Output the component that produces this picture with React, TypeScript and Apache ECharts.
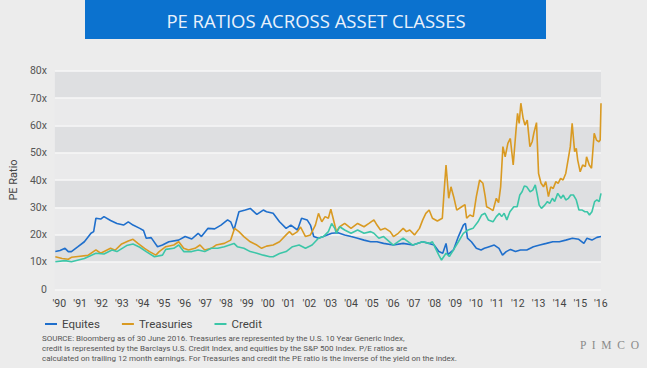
import React, { useEffect, useRef } from "react";
import * as echarts from "echarts";

const title = "PE RATIOS ACROSS ASSET CLASSES";
const yearLabels = ["'90","'91","'92","'93","'94","'95","'96","'97","'98","'99","'00","'01","'02","'03","'04","'05","'06","'07","'08","'09","'10","'11","'12","'13","'14","'15","'16"];
const yTicks = ["0","10x","20x","30x","40x","50x","60x","70x","80x"];
const seriesNames = ["Equites", "Treasuries", "Credit"];
const sourceLines = [
  "SOURCE: Bloomberg as of 30 June 2016. Treasuries are represented by the U.S. 10 Year Generic Index,",
  "credit is represented by the Barclays U.S. Credit Index, and equities by the S&P 500 Index. P/E ratios are",
  "calculated on trailing 12 month earnings. For Treasuries and credit the PE ratio is the inverse of the yield on the index.",
];

const equitiesT = [1990.02,1990.25,1990.49,1990.65,1990.8,1991.12,1991.43,1991.75,1991.88,1991.99,1992.22,1992.38,1992.7,1993.01,1993.33,1993.56,1993.79,1994.12,1994.3,1994.43,1994.67,1994.98,1995.22,1995.53,1996.0,1996.32,1996.64,1996.95,1997.11,1997.43,1997.75,1998.06,1998.38,1998.53,1998.69,1998.93,1999.24,1999.48,1999.8,2000.11,2000.27,2000.59,2000.9,2001.22,2001.45,2001.77,2001.97,2002.24,2002.4,2002.56,2002.79,2003.03,2003.43,2003.74,2004.06,2004.37,2004.69,2005.0,2005.32,2005.63,2005.95,2006.42,2006.9,2007.37,2007.84,2008.16,2008.4,2008.63,2008.82,2008.98,2009.07,2009.34,2009.58,2009.82,2009.92,2010.02,2010.21,2010.45,2010.68,2010.84,2011.0,2011.32,2011.55,2011.72,2011.9,2012.11,2012.35,2012.59,2012.9,2013.22,2013.53,2013.85,2014.16,2014.48,2014.79,2015.11,2015.42,2015.67,2015.82,2016.06,2016.3,2016.5];
const equitiesV = [13.8,14.2,15.0,13.8,13.8,15.6,17.4,20.5,21.1,26.0,25.7,26.6,25.2,24.1,23.5,24.7,23.5,22.3,21.5,18.7,18.9,15.6,16.2,17.4,18.0,19.3,18.4,20.5,19.3,22.3,22.1,23.5,25.4,24.7,21.7,28.4,29.0,29.6,27.4,29.0,28.4,27.8,24.7,22.3,23.5,21.7,26.0,25.4,23.5,19.3,18.7,19.3,20.5,20.7,19.9,19.3,18.7,18.0,17.4,17.4,16.8,16.2,16.8,16.2,17.4,16.8,16.2,13.8,13.2,16.8,12.7,14.4,19.3,23.5,24.1,18.7,17.4,15.0,14.4,15.0,15.4,16.2,15.0,12.5,13.8,14.6,13.8,14.4,14.4,15.6,16.2,16.8,17.4,17.4,18.0,18.7,18.3,16.8,18.7,18.0,19.0,19.3];

const treasuriesT = [1990.02,1990.35,1990.65,1990.8,1991.12,1991.6,1991.99,1992.22,1992.7,1992.92,1993.24,1993.56,1993.79,1994.03,1994.35,1994.59,1994.9,1995.06,1995.38,1995.77,1996.01,1996.25,1996.48,1996.8,1997.04,1997.27,1997.59,1997.82,1998.22,1998.53,1998.72,1998.93,1999.17,1999.48,1999.8,2000.03,2000.27,2000.59,2000.9,2001.22,2001.38,2001.53,2001.77,2001.92,2002.16,2002.4,2002.64,2002.79,2002.95,2003.11,2003.27,2003.39,2003.5,2003.66,2003.82,2004.06,2004.37,2004.69,2005.0,2005.24,2005.48,2005.63,2005.8,2006.03,2006.27,2006.43,2006.66,2006.9,2007.06,2007.22,2007.45,2007.69,2007.85,2008.0,2008.16,2008.32,2008.56,2008.8,2008.88,2008.98,2009.11,2009.22,2009.35,2009.5,2009.74,2009.9,2009.98,2010.14,2010.3,2010.45,2010.61,2010.77,2010.88,2010.95,2011.1,2011.26,2011.42,2011.53,2011.63,2011.74,2011.85,2011.98,2012.1,2012.24,2012.37,2012.45,2012.53,2012.61,2012.72,2012.81,2012.92,2013.05,2013.16,2013.24,2013.37,2013.47,2013.59,2013.71,2013.82,2013.95,2014.06,2014.18,2014.31,2014.42,2014.54,2014.66,2014.79,2014.9,2015.01,2015.1,2015.22,2015.3,2015.37,2015.49,2015.61,2015.74,2015.8,2015.93,2016.04,2016.17,2016.28,2016.4,2016.46,2016.5];
const treasuriesV = [11.9,11.3,11.0,11.7,12.0,12.4,14.4,13.2,15.0,14.3,16.6,17.7,18.3,16.8,15.0,13.8,12.5,13.8,15.6,16.2,17.4,15.0,14.4,15.0,16.2,14.4,15.0,16.2,16.8,18.0,22.3,21.1,19.3,17.4,16.2,15.0,15.8,16.2,17.4,19.9,21.1,19.9,21.1,22.8,19.3,19.9,23.5,27.8,24.7,26.6,26.0,29.3,26.0,21.1,22.9,24.1,22.3,24.1,22.9,24.1,25.4,23.5,21.7,22.3,21.1,19.3,20.5,22.3,21.1,21.7,19.9,22.3,25.4,27.8,29.0,26.0,25.0,26.0,35.1,45.5,33.3,37.5,33.9,29.0,30.2,31.0,26.0,27.2,26.6,33.9,40.0,38.8,34.0,30.2,29.6,28.8,33.3,31.7,37.5,52.2,48.5,53.4,55.2,45.5,57.7,64.4,60.7,68.1,62.6,60.1,61.9,52.2,54.0,57.1,61.0,42.4,38.8,37.5,39.4,33.9,37.5,36.9,39.4,38.8,40.6,40.0,42.4,47.3,52.2,60.7,50.4,51.6,47.3,43.0,45.5,44.9,48.5,45.5,44.3,57.1,54.6,54.0,54.6,68.1];

const creditT = [1990.02,1990.49,1990.8,1991.43,1991.99,1992.38,1992.77,1993.01,1993.48,1993.79,1994.12,1994.43,1994.83,1995.22,1995.38,1995.77,1996.01,1996.25,1996.64,1996.95,1997.27,1997.59,1997.9,1998.22,1998.69,1998.85,1999.17,1999.48,1999.8,2000.11,2000.43,2000.59,2000.9,2001.22,2001.53,2001.85,2002.16,2002.48,2002.79,2003.03,2003.27,2003.43,2003.58,2003.66,2003.82,2004.06,2004.37,2004.69,2005.0,2005.32,2005.48,2005.72,2005.95,2006.42,2006.9,2007.37,2007.84,2008.16,2008.32,2008.47,2008.63,2008.76,2008.98,2009.14,2009.34,2009.58,2009.82,2010.05,2010.29,2010.53,2010.71,2010.87,2011.03,2011.26,2011.42,2011.57,2011.68,2011.8,2011.93,2012.08,2012.27,2012.43,2012.56,2012.67,2012.78,2012.9,2013.06,2013.19,2013.31,2013.41,2013.5,2013.61,2013.77,2013.9,2014.01,2014.14,2014.25,2014.4,2014.56,2014.67,2014.79,2014.92,2015.03,2015.16,2015.3,2015.43,2015.59,2015.72,2015.83,2015.94,2016.06,2016.19,2016.3,2016.41,2016.5];
const creditV = [10.1,10.5,10.1,11.3,13.2,12.9,14.4,13.8,16.0,16.6,15.4,13.8,11.9,12.5,14.6,15.0,16.2,13.8,13.8,14.4,13.8,15.0,15.0,15.6,16.8,15.6,15.0,13.8,13.2,12.5,11.9,11.9,13.1,13.8,15.6,16.2,15.0,16.2,18.7,19.3,21.1,24.1,22.3,20.5,22.9,21.7,20.5,21.7,20.5,21.1,20.5,18.7,19.3,16.2,18.7,16.2,17.4,16.8,17.4,15.0,12.5,10.7,13.2,12.0,14.4,17.4,20.5,21.7,22.3,24.7,27.2,27.8,25.4,24.7,26.6,27.8,26.6,27.8,25.4,28.4,30.2,30.2,34.5,35.7,37.8,37.5,35.7,36.3,38.2,34.5,30.8,29.6,30.8,32.1,31.4,33.3,32.1,35.1,33.3,34.5,32.7,33.3,34.5,34.5,32.7,29.0,29.0,28.4,28.4,27.2,28.4,32.1,32.7,32.1,35.1];

const colors = ["#1f6fcc", "#d99a22", "#3cc6a8"];

function zip(t: number[], v: number[]) {
  return t.map((x, i) => [x, v[i]]);
}

export default function App() {
  const ref = useRef<HTMLDivElement>(null);
  useEffect(() => {
    const chart = echarts.init(ref.current!, null, { renderer: "svg" });
    const labelPos = yearLabels.map((_, i) => Math.min(2016.49, 1990 + (4.5 + i * 21.37) / 21.13));
    chart.setOption({
      animation: false,
      backgroundColor: "#ececec",
      color: colors,
      grid: { left: 41, top: 70.7, width: 560, height: 218.6, containLabel: false },
      legend: {
        data: seriesNames,
        left: 40,
        top: 313,
        icon: "rect",
        itemWidth: 12,
        itemHeight: 2,
        itemGap: 22,
        textStyle: { fontSize: 11.5, color: "#444", fontFamily: "Roboto" },
      },
      xAxis: {
        type: "value",
        min: 1990,
        max: 2016.5,
        axisLine: { show: false },
        axisTick: { show: false },
        splitLine: { show: false },
        axisLabel: {
          customValues: labelPos,
          margin: 9,
          fontSize: 10.5,
          color: "#444",
          fontFamily: "Roboto",
          formatter: (v: number) => yearLabels[Math.floor(v) - 1990] ?? "",
        },
      },
      yAxis: {
        type: "value",
        min: 0,
        max: 80,
        interval: 10,
        name: "PE Ratio",
        nameLocation: "middle",
        nameGap: 33,
        nameTextStyle: { fontSize: 11, color: "#444", fontFamily: "Roboto" },
        axisLine: { show: false },
        axisTick: { show: false },
        axisLabel: {
          fontSize: 10.5,
          color: "#555",
          margin: 8,
          fontFamily: "Roboto",
          formatter: (v: number) => yTicks[Math.round(v / 10)],
        },
        splitLine: { lineStyle: { color: "#f7f7f7", width: 1.5 } },
        splitArea: { show: true, areaStyle: { color: ["#eaeaeb", "#dedfe1"] } },
      },
      series: [
        { name: seriesNames[0], type: "line", data: zip(equitiesT, equitiesV), showSymbol: false, lineStyle: { width: 1.6 } },
        { name: seriesNames[1], type: "line", data: zip(treasuriesT, treasuriesV), showSymbol: false, lineStyle: { width: 1.6 } },
        { name: seriesNames[2], type: "line", data: zip(creditT, creditV), showSymbol: false, lineStyle: { width: 1.6 } },
      ],
      graphic: [
        { type: "rect", shape: { x: 85, y: 0, width: 461, height: 39 }, style: { fill: "#0b72cf" } },
        {
          type: "text",
          x: 316,
          y: 20,
          style: { text: title, fill: "#e9f1fb", fontSize: 18.5, fontFamily: "Open Sans", align: "center", verticalAlign: "middle" },
        },
        {
          type: "text",
          x: 42,
          y: 333,
          style: { text: sourceLines.join("\n"), fill: "#555", fontSize: 8, lineHeight: 10.2, fontFamily: "Roboto" },
        },
        {
          type: "text",
          x: 580,
          y: 345,
          style: { text: "P  I  M  C  O", fill: "#8a8a8a", fontSize: 11.5, fontFamily: "Liberation Serif", verticalAlign: "middle" },
        },
      ],
    });
    return () => chart.dispose();
  }, []);
  return (
    <div
      ref={ref}
      style={{ position: "fixed", left: 0, top: 0, width: 647, height: 368, background: "#ececec" }}
    />
  );
}
